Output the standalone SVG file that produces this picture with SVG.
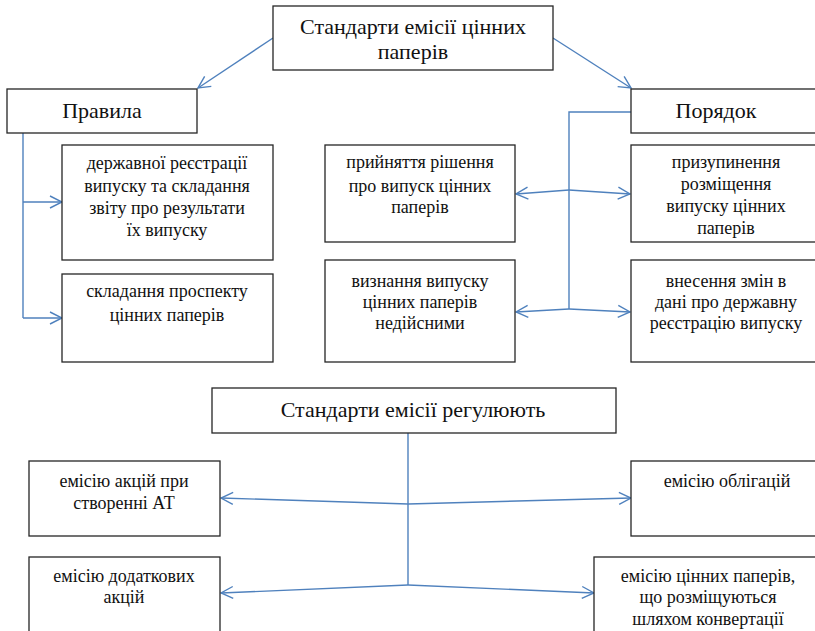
<svg xmlns="http://www.w3.org/2000/svg" width="815" height="631" viewBox="0 0 815 631">
  <style>
    .box { fill: #ffffff; stroke: #262626; stroke-width: 1.3; }
    .t { font-family: 'Liberation Serif', serif; fill: #111111; text-anchor: middle; }
    .h { font-size: 22px; }
    .s { font-size: 18px; }
    .c { fill: none; stroke: #4f81bd; stroke-width: 1.4; }
  </style>
  <defs>
    <marker id="arr" viewBox="0 0 14 14" refX="13" refY="7" markerWidth="14" markerHeight="14" markerUnits="userSpaceOnUse" orient="auto">
      <path d="M1,1 L13,7 L1,13" fill="none" stroke="#4f81bd" stroke-width="1.4"/>
    </marker>
    <clipPath id="clipC"><rect x="631" y="145" width="200" height="97"/></clipPath>
    <clipPath id="clipH"><rect x="594" y="557" width="240" height="74"/></clipPath>
  </defs>
  <rect width="815" height="631" fill="#ffffff"/>

  <!-- connectors -->
  <g id="connectors">
    <line class="c" x1="273" y1="38" x2="198" y2="88" marker-end="url(#arr)"/>
    <line class="c" x1="553" y1="38" x2="631" y2="88" marker-end="url(#arr)"/>
    <!-- Правила branch -->
    <polyline class="c" points="23,133 23,318"/>
    <line class="c" x1="23" y1="202" x2="62" y2="202" marker-end="url(#arr)"/>
    <line class="c" x1="23" y1="318" x2="62" y2="318" marker-end="url(#arr)"/>
    <!-- Порядок branch -->
    <polyline class="c" points="631,112 569,112 569,309"/>
    <line class="c" x1="569" y1="190" x2="516" y2="194" marker-end="url(#arr)"/>
    <line class="c" x1="569" y1="190" x2="630" y2="194" marker-end="url(#arr)"/>
    <line class="c" x1="569" y1="309" x2="516" y2="312" marker-end="url(#arr)"/>
    <line class="c" x1="569" y1="309" x2="630" y2="312" marker-end="url(#arr)"/>
    <!-- regulation branch -->
    <line class="c" x1="408" y1="433" x2="408" y2="585"/>
    <line class="c" x1="408" y1="504" x2="221" y2="498" marker-end="url(#arr)"/>
    <line class="c" x1="408" y1="504" x2="631" y2="498" marker-end="url(#arr)"/>
    <line class="c" x1="408" y1="585" x2="221" y2="593" marker-end="url(#arr)"/>
    <line class="c" x1="408" y1="585" x2="594" y2="593" marker-end="url(#arr)"/>
  </g>

  <g id="standards">
    <rect class="box" x="273" y="6" width="280" height="64"/>
    <text class="t h" x="413" y="34">Стандарти емісії цінних</text>
    <text class="t h" x="413" y="59">паперів</text>
  </g>

  <g id="rules">
    <rect class="box" x="7" y="89" width="190" height="44"/>
    <text class="t h" x="102" y="118">Правила</text>
  </g>

  <g id="order">
    <rect class="box" x="631" y="89" width="200" height="44"/>
    <text class="t h" x="716" y="118">Порядок</text>
  </g>

  <g id="registration">
    <rect class="box" x="62" y="145" width="211" height="115"/>
    <text class="t s" x="167" y="169">державної реєстрації</text>
    <text class="t s" x="167" y="192">випуску та складання</text>
    <text class="t s" x="167" y="214">звіту про результати</text>
    <text class="t s" x="167" y="236">їх випуску</text>
  </g>

  <g id="prospectus">
    <rect class="box" x="62" y="274" width="211" height="88"/>
    <text class="t s" x="167" y="297">складання проспекту</text>
    <text class="t s" x="167" y="321">цінних паперів</text>
  </g>

  <g id="decision">
    <rect class="box" x="325" y="145" width="190" height="97"/>
    <text class="t s" x="420" y="168">прийняття рішення</text>
    <text class="t s" x="420" y="192">про випуск цінних</text>
    <text class="t s" x="420" y="213">паперів</text>
  </g>

  <g id="invalid">
    <rect class="box" x="325" y="260" width="190" height="102"/>
    <text class="t s" x="420" y="287">визнання випуску</text>
    <text class="t s" x="420" y="308">цінних паперів</text>
    <text class="t s" x="420" y="329">недійсними</text>
  </g>

  <g id="suspension">
    <rect class="box" x="631" y="145" width="200" height="97"/>
    <g clip-path="url(#clipC)">
      <text class="t s" x="726" y="168">призупинення</text>
      <text class="t s" x="726" y="190">розміщення</text>
      <text class="t s" x="726" y="212">випуску цінних</text>
      <text class="t s" x="726" y="234">паперів</text>
    </g>
  </g>

  <g id="changes">
    <rect class="box" x="631" y="260" width="200" height="102"/>
    <text class="t s" x="726" y="287">внесення змін в</text>
    <text class="t s" x="726" y="308">дані про державну</text>
    <text class="t s" x="726" y="329">реєстрацію випуску</text>
  </g>

  <g id="regulate">
    <rect class="box" x="212" y="388" width="404" height="45"/>
    <text class="t h" x="413" y="417">Стандарти емісії регулюють</text>
  </g>

  <g id="founding">
    <rect class="box" x="29" y="461" width="191" height="75"/>
    <text class="t s" x="124" y="487">емісію акцій при</text>
    <text class="t s" x="124" y="509">створенні АТ</text>
  </g>

  <g id="bonds">
    <rect class="box" x="631" y="461" width="200" height="75"/>
    <text class="t s" x="727" y="487">емісію облігацій</text>
  </g>

  <g id="additional">
    <rect class="box" x="29" y="557" width="191" height="90"/>
    <text class="t s" x="124" y="582">емісію додаткових</text>
    <text class="t s" x="124" y="603">акцій</text>
  </g>

  <g id="conversion">
    <rect class="box" x="594" y="557" width="240" height="90"/>
    <g clip-path="url(#clipH)">
      <text class="t s" x="708" y="582">емісію цінних паперів,</text>
      <text class="t s" x="708" y="603">що розміщуються</text>
      <text class="t s" x="708" y="625">шляхом конвертації</text>
    </g>
  </g>
</svg>
